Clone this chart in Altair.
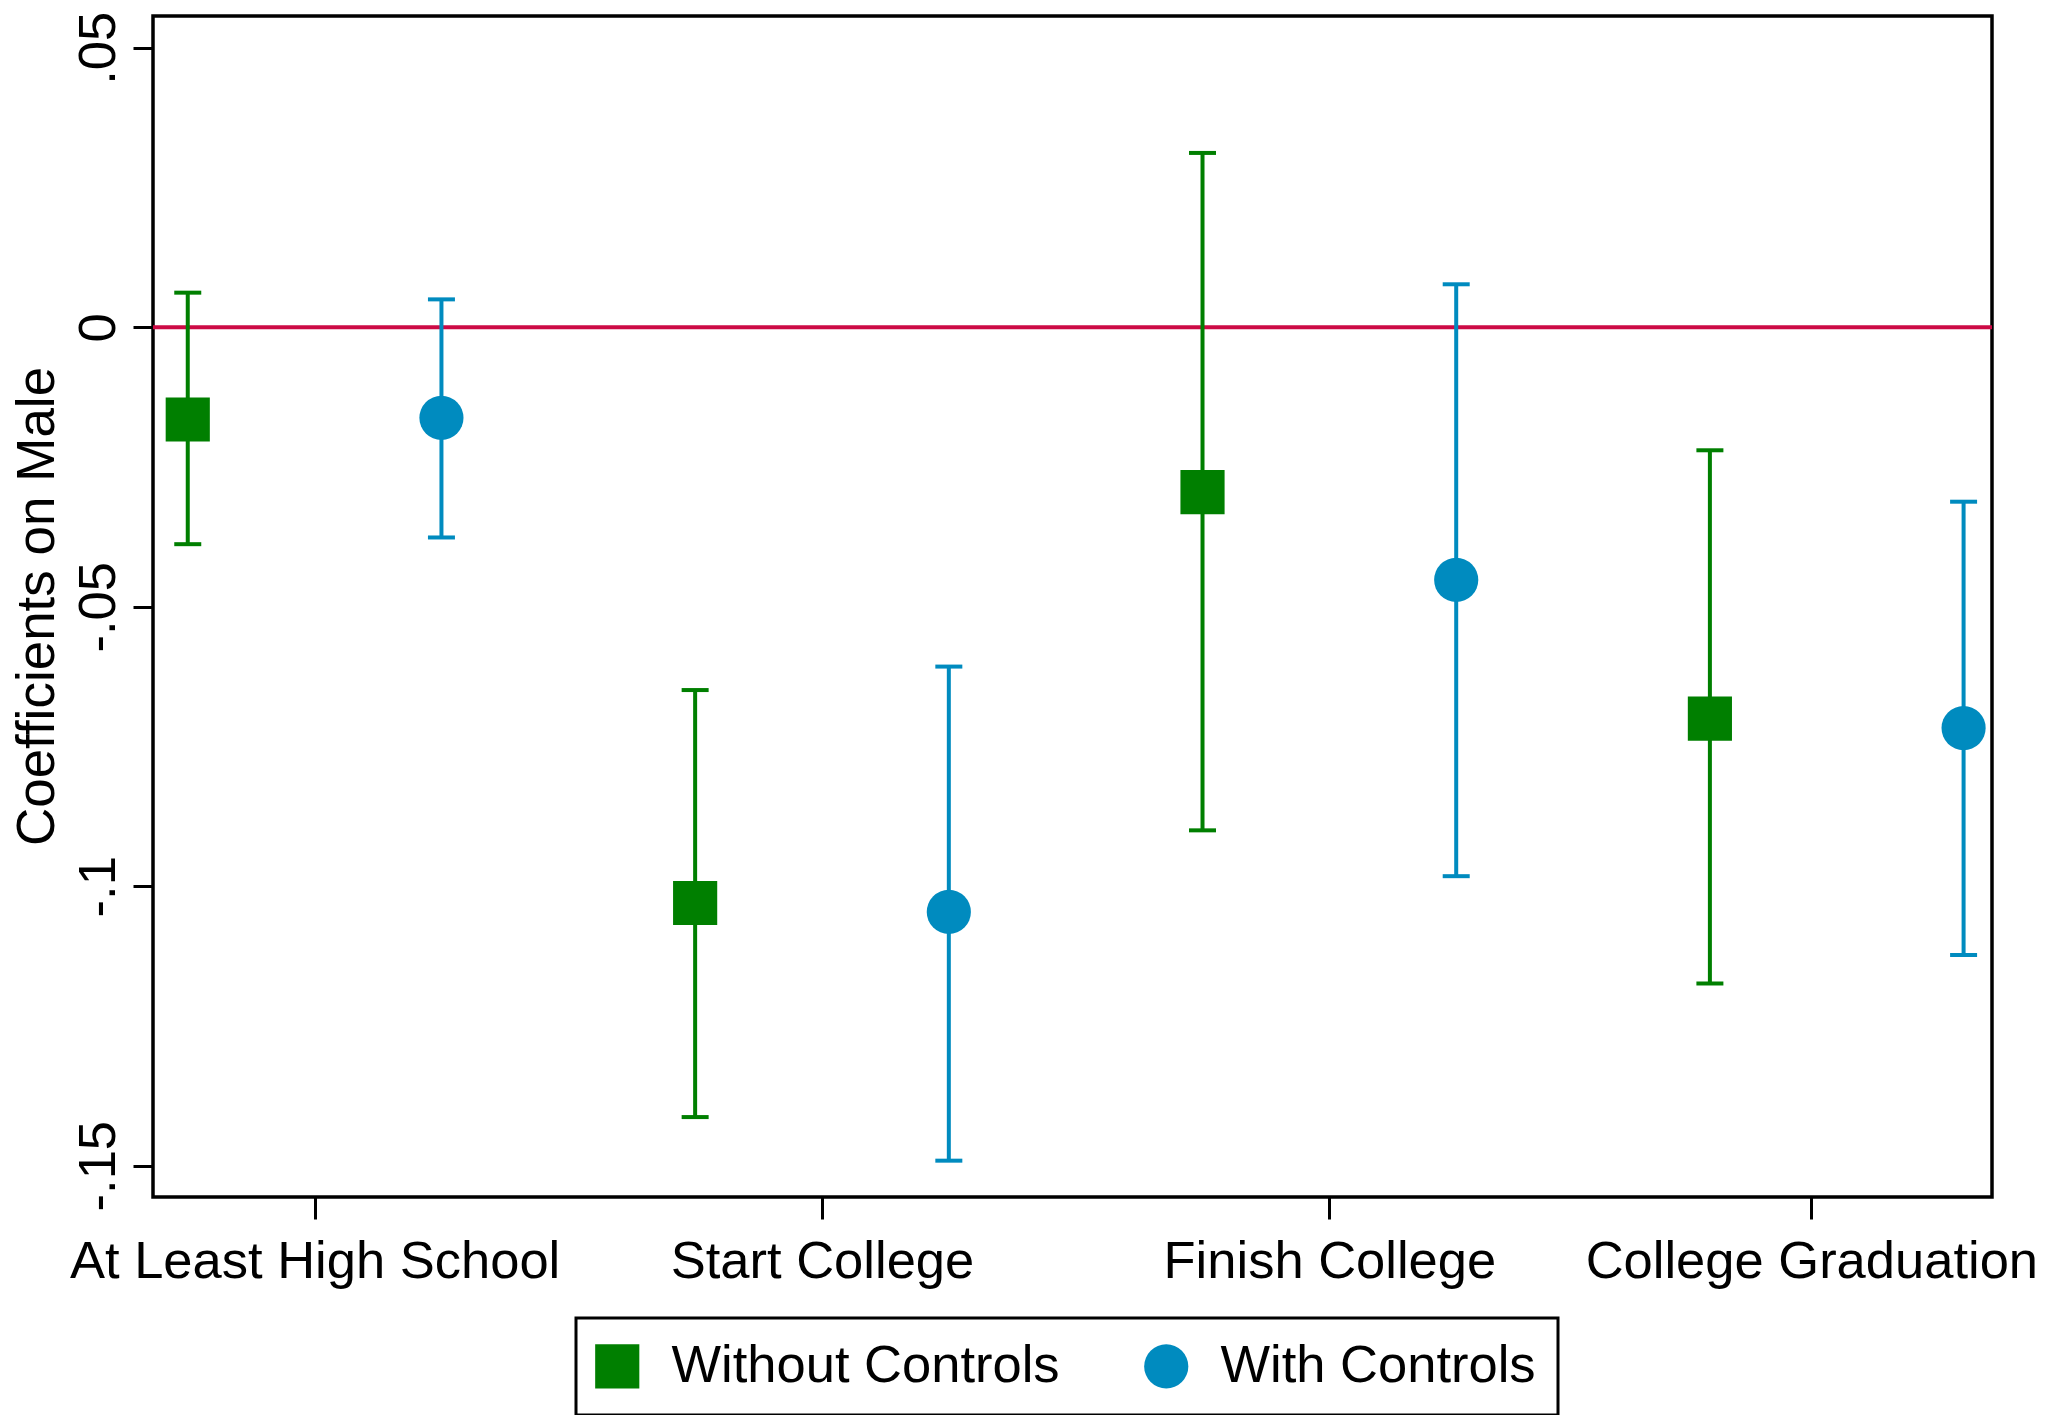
import altair as alt
import pandas as pd

# ---- data ----
categories = ["At Least High School", "Start College", "Finish College", "College Graduation"]
series = ["Without Controls", "With Controls"]

without_est = [-0.0165, -0.1030, -0.0295, -0.0700]
without_lo = [-0.0388, -0.1413, -0.0900, -0.1174]
without_hi = [0.0062, -0.0649, 0.0312, -0.0220]

with_est = [-0.0162, -0.1046, -0.0452, -0.0717]
with_lo = [-0.0376, -0.1491, -0.0982, -0.1123]
with_hi = [0.0050, -0.0607, 0.0077, -0.0312]

y_tick_values = [-0.15, -0.1, -0.05, 0, 0.05]
y_tick_labels = ["-.15", "-.1", "-.05", "0", ".05"]

x_tick_values = [1.5, 3.5, 5.5, 7.4]

rows = []
for i, cat in enumerate(categories):
    rows.append(dict(cat=cat, series=series[0], pos=2 * i + 1,
                     est=without_est[i], lo=without_lo[i], hi=without_hi[i]))
    rows.append(dict(cat=cat, series=series[1], pos=2 * i + 2,
                     est=with_est[i], lo=with_lo[i], hi=with_hi[i]))
df = pd.DataFrame(rows)

GREEN = "#007f00"
BLUE = "#008bbf"
RED = "#cc0a45"
FONT = "Liberation Sans"
FS = 52.5


def ternary(values, labels):
    expr = "''"
    for v, l in reversed(list(zip(values, labels))):
        expr = f"abs(datum.value - ({v})) < 1e-9 ? '{l}' : ({expr})"
    return expr


x_scale = alt.Scale(domain=[0.863, 8.112], nice=False, zero=False)
y_scale = alt.Scale(domain=[-0.1556, 0.0557], nice=False, zero=False)

x_axis = alt.Axis(
    title=None, values=x_tick_values, labelExpr=ternary(x_tick_values, categories),
    grid=False, domain=False, ticks=True, tickSize=22, tickWidth=3, tickColor="black",
    labelFont=FONT, labelFontSize=FS, labelColor="black", labelPadding=17,
    labelOverlap=False, labelFlush=False, labelBaseline="top", labelAlign="center",
    labelLimit=0,
)
y_axis = alt.Axis(
    title="Coefficients on Male", values=y_tick_values,
    labelExpr=ternary(y_tick_values, y_tick_labels),
    grid=False, domain=False, ticks=True, tickSize=20, tickWidth=3, tickColor="black",
    labelFont=FONT, labelFontSize=FS, labelColor="black", labelPadding=19,
    labelAngle=270, labelAlign="center", labelBaseline="alphabetic",
    labelOverlap=False, labelFlush=False, labelLimit=0,
    titleFont=FONT, titleFontSize=53, titleFontWeight="normal", titleColor="black",
    titleAngle=270, titleAlign="center", titleBaseline="alphabetic",
    titleX=-100, titleY=590, titleLimit=0,
)

base = alt.Chart(df)

zero_line = alt.Chart(pd.DataFrame({"z": [0]})).mark_rule(
    color=RED, strokeWidth=4
).encode(y=alt.Y("z:Q", scale=y_scale, axis=y_axis))

layers = [zero_line]
for s, col in zip(series, [GREEN, BLUE]):
    sub = base.transform_filter(alt.datum.series == s)
    stem = sub.mark_rule(color=col, strokeWidth=4).encode(
        x=alt.X("pos:Q", scale=x_scale, axis=x_axis),
        y=alt.Y("lo:Q", scale=y_scale),
        y2="hi:Q",
    )
    cap_hi = sub.mark_rule(color=col, strokeWidth=4, xOffset=-13.5, x2Offset=13.5).encode(
        x=alt.X("pos:Q", scale=x_scale), x2="pos:Q",
        y=alt.Y("hi:Q", scale=y_scale),
    )
    cap_lo = sub.mark_rule(color=col, strokeWidth=4, xOffset=-13.5, x2Offset=13.5).encode(
        x=alt.X("pos:Q", scale=x_scale), x2="pos:Q",
        y=alt.Y("lo:Q", scale=y_scale),
    )
    layers += [stem, cap_hi, cap_lo]

leg = alt.Legend(title=None, orient="none", legendX=423, legendY=1302, direction="horizontal")
points = base.mark_point(filled=True, opacity=1, size=1950, strokeWidth=0).encode(
    x=alt.X("pos:Q", scale=x_scale),
    y=alt.Y("est:Q", scale=y_scale),
    color=alt.Color("series:N", scale=alt.Scale(domain=series, range=[GREEN, BLUE]), legend=leg),
    shape=alt.Shape("series:N", scale=alt.Scale(domain=series, range=["square", "circle"]), legend=leg),
)
layers.append(points)

chart = alt.layer(*layers).properties(
    width=1839, height=1181,
    autosize=alt.AutoSizeParams(type="none"),
    padding={"left": 145, "top": 8, "right": 52, "bottom": 218},
    background="white",
).configure_view(
    stroke="black", strokeWidth=3.5
).configure_legend(
    labelFont=FONT, labelFontSize=FS, labelColor="black", labelLimit=0,
    strokeColor="black", strokeWidth=3, padding=22, fillColor="white",
    symbolSize=1950, symbolStrokeWidth=0, symbolOpacity=1, symbolOffset=-7,
    labelOffset=28, columnPadding=84, cornerRadius=0,
)

chart.save("out.html", embed_options={"renderer": "svg", "actions": False})
